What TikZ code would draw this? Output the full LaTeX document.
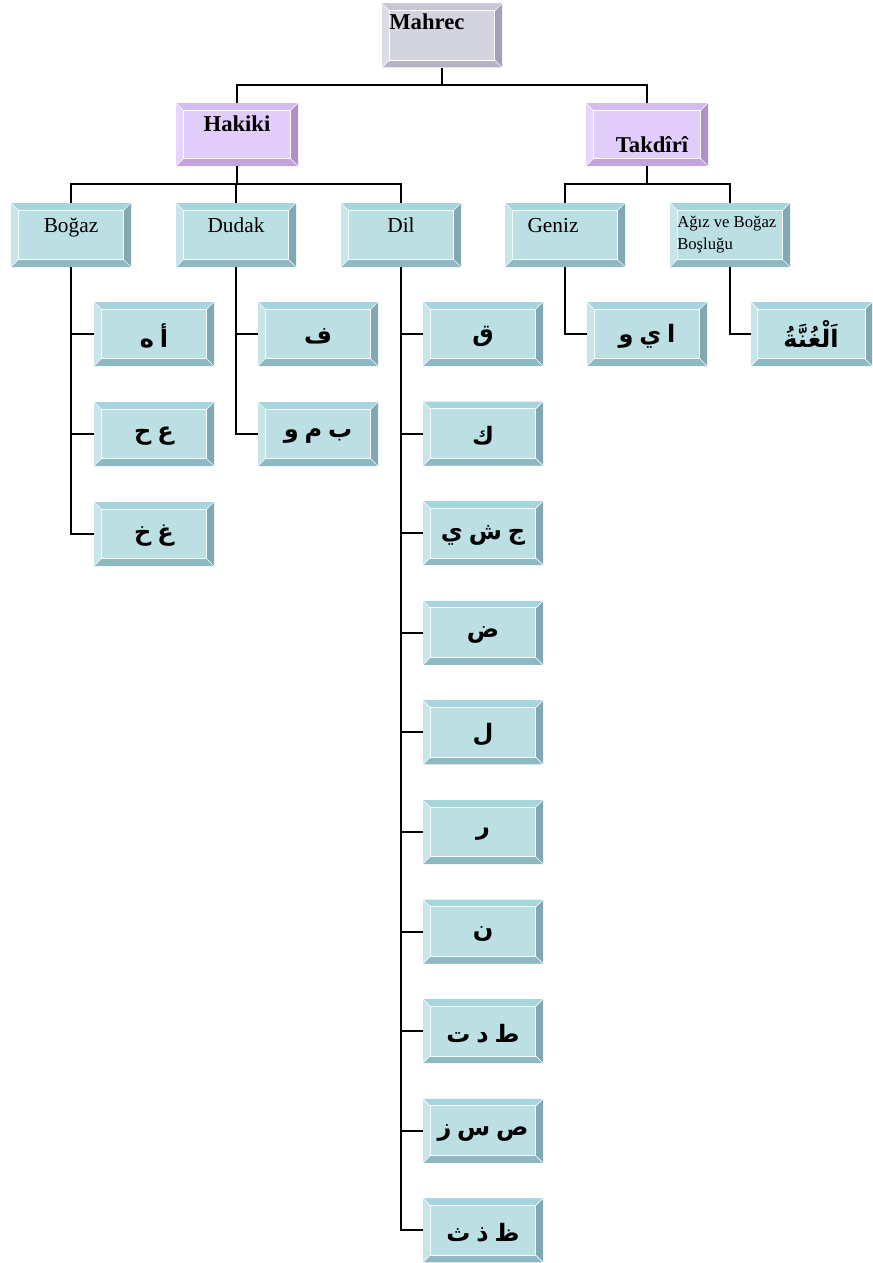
\documentclass[tikz,border=0pt]{standalone}
\usepackage{fontspec}
\setmainfont{Liberation Serif}
\newfontfamily\arabicfont[Script=Arabic, WordSpace=0.7]{DejaVu Sans}
\TeXXeTstate=1
\newlength\bvw
\setlength\bvw{5.3pt}
\newcommand\mybevel[5]{%
  \coordinate (pNW) at (path picture bounding box.north west);
  \coordinate (pNE) at (path picture bounding box.north east);
  \coordinate (pSW) at (path picture bounding box.south west);
  \coordinate (pSE) at (path picture bounding box.south east);
  \coordinate (iNW) at ([xshift=\bvw,yshift=-\bvw]pNW);
  \coordinate (iNE) at ([xshift=-\bvw,yshift=-\bvw]pNE);
  \coordinate (iSW) at ([xshift=\bvw,yshift=\bvw]pSW);
  \coordinate (iSE) at ([xshift=-\bvw,yshift=\bvw]pSE);
  \fill[#1] (pNW) -- (pNE) -- (iNE) -- (iNW) -- cycle;
  \fill[#2] (pNW) -- (iNW) -- (iSW) -- (pSW) -- cycle;
  \fill[#3] (pNE) -- (pSE) -- (iSE) -- (iNE) -- cycle;
  \fill[#4] (pSW) -- (iSW) -- (iSE) -- (pSE) -- cycle;
  \draw[#5, line width=0.8pt] (iNW) -- (iNE) -- (iSE) -- (iSW) -- cycle;
  \draw[#5, line width=0.5pt] (pNW) -- (iNW) (pNE) -- (iNE) (pSW) -- (iSW) (pSE) -- (iSE);
}
\definecolor{gfill}{HTML}{D4D4E0}
\definecolor{gtop}{HTML}{C6C6D4}
\definecolor{gleft}{HTML}{DCDCE6}
\definecolor{gright}{HTML}{A2A2B4}
\definecolor{gbot}{HTML}{B4B4C4}
\definecolor{pfill}{HTML}{E2CCFA}
\definecolor{ptop}{HTML}{D4BCF0}
\definecolor{pleft}{HTML}{E8D6FA}
\definecolor{pright}{HTML}{B090C8}
\definecolor{pbot}{HTML}{C2A4DA}
\definecolor{bfill}{HTML}{BCDFE4}
\definecolor{btop}{HTML}{A6D5DD}
\definecolor{bleft}{HTML}{C8E6EA}
\definecolor{bright}{HTML}{84A8B2}
\definecolor{bbot}{HTML}{8EB8C2}
\tikzset{
  boxbase/.style={rectangle, inner sep=0pt, minimum width=90pt, minimum height=48pt},
  graybox/.style={boxbase, fill=gfill, path picture={\mybevel{gtop}{gleft}{gright}{gbot}{white}}},
  purplebox/.style={boxbase, minimum width=91.5pt, minimum height=47.25pt, fill=pfill, path picture={\mybevel{ptop}{pleft}{pright}{pbot}{white}}},
  bluebox/.style={boxbase, fill=bfill, path picture={\mybevel{btop}{bleft}{bright}{bbot}{white!85!bfill}}},
  conn/.style={draw=black, line width=1.5pt},
  boldlbl/.style={font=\fontsize{17}{19}\selectfont\bfseries, inner sep=0pt, anchor=base},
  lbl/.style={font=\fontsize{16}{18}\selectfont, inner sep=0pt, anchor=base},
  smalllbl/.style={font=\fontsize{12.5}{16.5}\selectfont, inner sep=0pt, anchor=base west},
  arlbl/.style={font=\fontsize{18}{20}\selectfont\arabicfont\bfseries, inner sep=0pt, anchor=center}
}
\begin{document}
\begin{tikzpicture}[x=0.75pt, y=-0.75pt]
\useasboundingbox (0,0) rectangle (872,1263);
% level 0/1
\node[graybox] (mahrec) at (442,35.5) {};
\node[purplebox] (hakiki) at (237,134.5) {};
\node[purplebox] (takdiri) at (647,134.5) {};
\node[boldlbl, anchor=base west] (tmahrec) at (389,30) {Mahrec};
\node[boldlbl] (thakiki) at (237,131) {Hakiki};
\node[boldlbl] (ttakdiri) at (652,152) {Takdîrî};
% level 2
\node[bluebox] (bogaz) at (71,235) {};
\node[bluebox] (dudak) at (236,235) {};
\node[bluebox] (dil) at (401,235) {};
\node[bluebox] (geniz) at (565,235) {};
\node[bluebox] (agiz) at (730,235) {};
\node[lbl] (tbogaz) at (71,232) {Boğaz};
\node[lbl] (tdudak) at (236,232) {Dudak};
\node[lbl] (tdil) at (401,232) {Dil};
\node[lbl] (tgeniz) at (553,232) {Geniz};
\node[smalllbl] (tagiz1) at (677,227) {Ağız ve Boğaz};
\node[smalllbl] (tagiz2) at (677,249) {Boşluğu};
% level 3 : Boğaz
\node[bluebox] (b1) at (154,334) {};
\node[bluebox] (b2) at (154,434) {};
\node[bluebox] (b3) at (154,534) {};
\node[arlbl] (tb1) at (154,336) {\beginR أ ه\endR};
\node[arlbl] (tb2) at (154,436) {\beginR ع ح\endR};
\node[arlbl] (tb3) at (154,536) {\beginR غ خ\endR};
% Dudak
\node[bluebox] (u1) at (318,334) {};
\node[bluebox] (u2) at (318,434) {};
\node[arlbl] (tu1) at (318,336) {\beginR ف\endR};
\node[arlbl] (tu2) at (318,436) {\beginR ب م و\endR};
% Dil
\node[bluebox] (d0) at (483,334) {};
\node[bluebox] (d1) at (483,433.6) {};
\node[bluebox] (d2) at (483,533.2) {};
\node[bluebox] (d3) at (483,632.8) {};
\node[bluebox] (d4) at (483,732.4) {};
\node[bluebox] (d5) at (483,832) {};
\node[bluebox] (d6) at (483,931.6) {};
\node[bluebox] (d7) at (483,1031.2) {};
\node[bluebox] (d8) at (483,1130.8) {};
\node[bluebox] (d9) at (483,1230.4) {};
\node[arlbl] (td0) at (483,336) {\beginR ق\endR};
\node[arlbl] (td1) at (483,435.6) {\beginR ك\endR};
\node[arlbl] (td2) at (483,535.2) {\beginR ج ش ي\endR};
\node[arlbl] (td3) at (483,634.8) {\beginR ض\endR};
\node[arlbl] (td4) at (483,734.4) {\beginR ل\endR};
\node[arlbl] (td5) at (483,834) {\beginR ر\endR};
\node[arlbl] (td6) at (483,933.6) {\beginR ن\endR};
\node[arlbl] (td7) at (483,1033.2) {\beginR ط د ت\endR};
\node[arlbl] (td8) at (483,1132.8) {\beginR ص س ز\endR};
\node[arlbl] (td9) at (483,1232.4) {\beginR ظ ذ ث\endR};
% Geniz / Ağız
\node[bluebox] (g1) at (647,334) {};
\node[arlbl] (tg1) at (647,336) {\beginR ا ي و\endR};
\node[bluebox, minimum width=91pt] (a1) at (811.5,334) {};
\node[arlbl] (ta1) at (811,334) {\beginR اَلْغُنَّةُ\endR};
% connectors
\draw[conn] (mahrec.south) -- ++(0,17) -| (hakiki.north);
\draw[conn] (mahrec.south) -- ++(0,17) -| (takdiri.north);
\draw[conn] (hakiki.south) -- ++(0,18) -| (bogaz.north);
\draw[conn] (hakiki.south) -- ++(0,18) -| (dudak.north);
\draw[conn] (hakiki.south) -- ++(0,18) -| (dil.north);
\draw[conn] (takdiri.south) -- ++(0,18) -| (geniz.north);
\draw[conn] (takdiri.south) -- ++(0,18) -| (agiz.north);
\foreach \c in {b1,b2,b3}{\draw[conn] (bogaz.south) |- (\c.west);}
\foreach \c in {u1,u2}{\draw[conn] (dudak.south) |- (\c.west);}
\foreach \i in {0,...,9}{\draw[conn] (dil.south) |- (d\i.west);}
\draw[conn] (geniz.south) |- (g1.west);
\draw[conn] (agiz.south) |- (a1.west);
\end{tikzpicture}
\end{document}
